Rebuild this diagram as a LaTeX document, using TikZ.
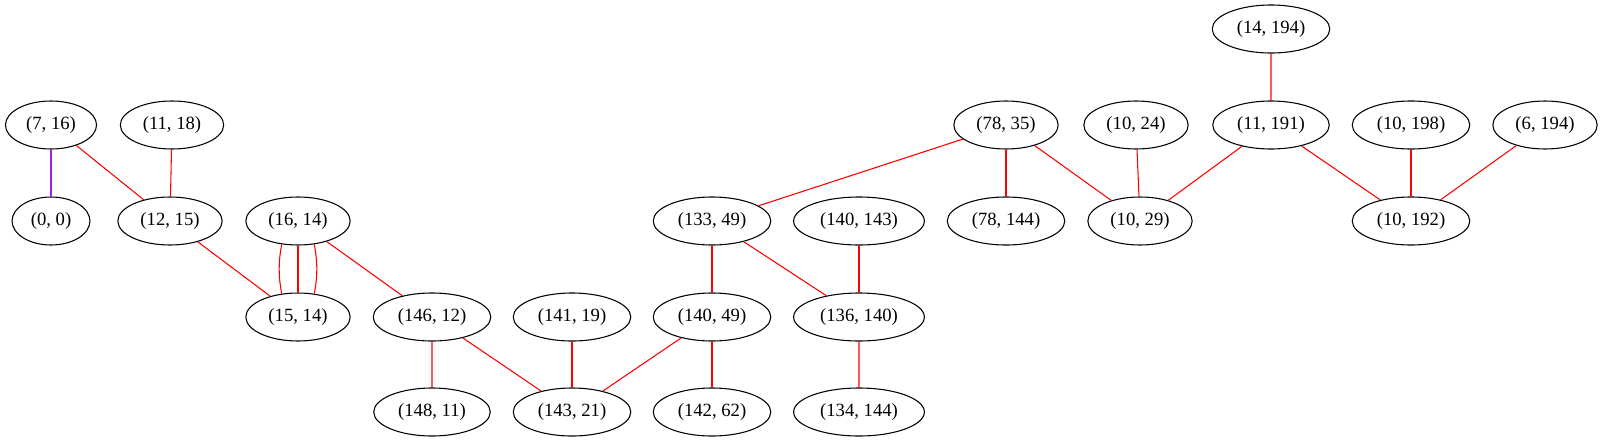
\documentclass[tikz,border=0pt]{standalone}
\usepackage{fontspec}
\setmainfont{Liberation Serif}
\usetikzlibrary{shapes.geometric}
\tikzset{
  vert/.style={draw,ellipse,line width=0.8pt,minimum height=36pt,inner xsep=5.5pt,inner ysep=2pt,font=\fontsize{14pt}{16pt}\selectfont},
  link/.style={red,line width=0.8pt},
}
\definecolor{gvpurple}{RGB}{160,32,240}
\begin{document}
\begin{tikzpicture}[x=0.75pt,y=-0.75pt]
			\useasboundingbox (0,0) rectangle (1603,443);
			% top row
			\node[vert] (n14x194) at (1271,29) {(14, 194)};
			% second row
			\node[vert] (n7x16) at (51,125) {(7, 16)};
			\node[vert] (n11x18) at (172,125) {(11, 18)};
			\node[vert] (n78x35) at (1006,125) {(78, 35)};
			\node[vert] (n10x24) at (1136,125) {(10, 24)};
			\node[vert] (n11x191) at (1271,125) {(11, 191)};
			\node[vert] (n10x198) at (1411,125) {(10, 198)};
			\node[vert] (n6x194) at (1545,125) {(6, 194)};
			% third row
			\node[vert] (n0x0) at (51,221) {(0, 0)};
			\node[vert] (n12x15) at (170,221) {(12, 15)};
			\node[vert] (n16x14) at (298,221) {(16, 14)};
			\node[vert] (n133x49) at (712,221) {(133, 49)};
			\node[vert] (n140x143) at (859,221) {(140, 143)};
			\node[vert] (n78x144) at (1006,221) {(78, 144)};
			\node[vert] (n10x29) at (1140,221) {(10, 29)};
			\node[vert] (n10x192) at (1411,221) {(10, 192)};
			% fourth row
			\node[vert] (n15x14) at (298,317) {(15, 14)};
			\node[vert] (n146x12) at (432,317) {(146, 12)};
			\node[vert] (n141x19) at (572,317) {(141, 19)};
			\node[vert] (n140x49) at (712,317) {(140, 49)};
			\node[vert] (n136x140) at (859,317) {(136, 140)};
			% bottom row
			\node[vert] (n148x11) at (432,412) {(148, 11)};
			\node[vert] (n143x21) at (572,412) {(143, 21)};
			\node[vert] (n142x62) at (712,412) {(142, 62)};
			\node[vert] (n134x144) at (859,412) {(134, 144)};
			% edges
			\draw[gvpurple,line width=0.8pt] (n7x16)--(n0x0);
			\draw[link] (n7x16)--(n12x15);
			\draw[link] (n11x18)--(n12x15)--(n15x14);
			\draw[link] (n16x14)--(n15x14);
			\draw[link] (n16x14.235) to[bend right=10] (n15x14.125);
			\draw[link] (n16x14.305) to[bend left=10] (n15x14.55);
			\draw[link] (n16x14)--(n146x12)--(n148x11);
			\draw[link] (n146x12)--(n143x21);
			\draw[link] (n141x19)--(n143x21);
			\draw[link] (n140x49)--(n143x21);
			\draw[link] (n140x49)--(n142x62);
			\draw[link] (n133x49)--(n140x49);
			\draw[link] (n133x49)--(n136x140)--(n134x144);
			\draw[link] (n140x143)--(n136x140);
			\draw[link] (n78x35)--(n133x49);
			\draw[link] (n78x35)--(n78x144);
			\draw[link] (n78x35)--(n10x29);
			\draw[link] (n10x24)--(n10x29);
			\draw[link] (n11x191)--(n10x29);
			\draw[link] (n14x194)--(n11x191)--(n10x192);
			\draw[link] (n10x198)--(n10x192);
			\draw[link] (n6x194)--(n10x192);
		\end{tikzpicture}
\end{document}
